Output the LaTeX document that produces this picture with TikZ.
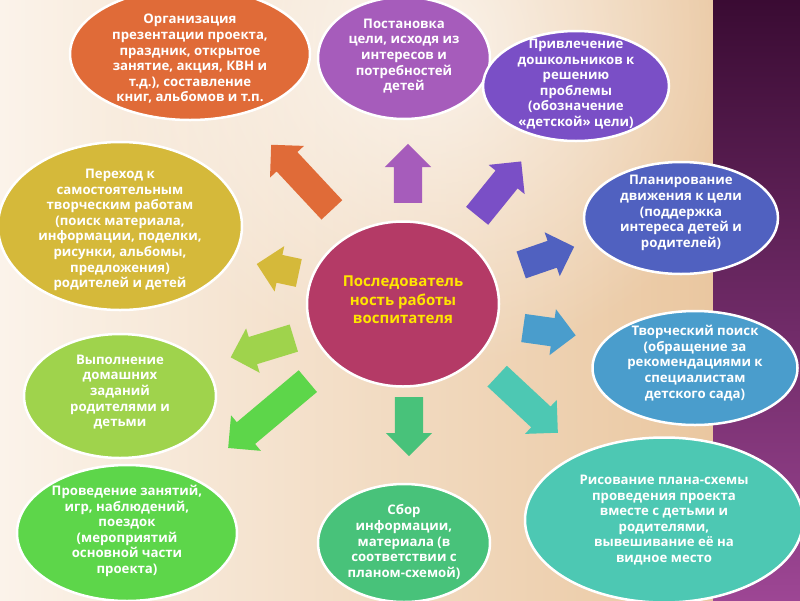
\documentclass[tikz,border=0pt]{standalone}
\usepackage{fontspec}
\setmainfont{Open Sans}
\usepackage{xcolor}
\usetikzlibrary{shapes.geometric,shapes.arrows,fadings}
\definecolor{color1}{HTML}{E06B38}
\definecolor{color2}{HTML}{A65CBB}
\definecolor{color3}{HTML}{7A4FC6}
\definecolor{color4}{HTML}{5061C0}
\definecolor{color5}{HTML}{4A9DCC}
\definecolor{color6}{HTML}{4DC8B3}
\definecolor{color7}{HTML}{48C27A}
\definecolor{color8}{HTML}{5DD64A}
\definecolor{color9}{HTML}{9FD34C}
\definecolor{color10}{HTML}{D5B93A}
\definecolor{color11}{HTML}{B43A66}
\definecolor{textyellow}{HTML}{FFE600}
\definecolor{sand1}{HTML}{FBF3EA}
\definecolor{sand2}{HTML}{EAC7A0}
\definecolor{band1}{HTML}{3A0B33}
\definecolor{band2}{HTML}{9D4694}
\tikzfading[name=glow, inner color=transparent!0, outer color=transparent!100]

\begin{document}
\begin{tikzpicture}[
  x=1pt,
  y=-1pt,
  stage/.style={ellipse, draw=white, line width=2.5pt, inner sep=0pt},
  push/.style={single arrow, draw=none, anchor=tail, inner xsep=0pt, inner ysep=14pt, minimum width=46pt, single arrow head extend=9pt, single arrow tip angle=90},
  note/.style={font=\bfseries\fontsize{13.2}{15.6}\selectfont, align=center, text=white},
  core/.style={font=\bfseries\fontsize{15}{18.5}\selectfont, align=center, text=textyellow}
]
\useasboundingbox (0,0) rectangle (800,600);
\clip (0,0) rectangle (800,600);
\shade[left color=sand1, right color=sand2] (0,0) rectangle (713,600);
\fill[white, path fading=glow, opacity=0.7] (430,40) circle (330);
\shade[top color=band1, bottom color=band2] (713,0) rectangle (800,600);

\node[stage, fill=color1, minimum width=240pt, minimum height=132pt] (Sorg) at (190,54) {};
\node[stage, fill=color2, minimum width=172pt, minimum height=122pt] (Sgoal) at (404,58) {};
\node[stage, fill=color3, minimum width=186pt, minimum height=110pt] (Sinv) at (576,86) {};
\node[stage, fill=color4, minimum width=194pt, minimum height=112pt] (Splan) at (681,218) {};
\node[stage, fill=color5, minimum width=205pt, minimum height=114pt] (Ssearch) at (695,368) {};
\node[stage, fill=color6, minimum width=278pt, minimum height=165pt] (Sdraw) at (664,520) {};
\node[stage, fill=color7, minimum width=172pt, minimum height=118pt] (Scoll) at (404,543) {};
\node[stage, fill=color8, minimum width=220pt, minimum height=136pt] (Scond) at (127,533) {};
\node[stage, fill=color9, minimum width=192pt, minimum height=124pt] (Shome) at (120,396) {};
\node[stage, fill=color10, minimum width=244pt, minimum height=168pt] (Strans) at (120,226) {};
\node[stage, fill=color11, minimum width=192pt, minimum height=165pt] (Score) at (403,304) {};

\node[note] (Torg) at (190,59) {Организация\\презентации проекта,\\праздник, открытое\\занятие, акция, КВН и\\т.д.), составление\\книг, альбомов и т.п.};
\node[note] (Tgoal) at (404,56) {Постановка\\цели, исходя из\\интересов и\\потребностей\\детей};
\node[note] (Tinv) at (576,84) {Привлечение\\дошкольников к\\решению\\проблемы\\(обозначение\\«детской» цели)};
\node[note] (Tplan) at (681,213) {Планирование\\движения к цели\\(поддержка\\интереса детей и\\родителей)};
\node[note] (Tsearch) at (695,363) {Творческий поиск\\(обращение за\\рекомендациями к\\специалистам\\детского сада)};
\node[note] (Tdraw) at (664,520) {Рисование плана-схемы\\проведения проекта\\вместе с детьми и\\родителями,\\вывешивание её на\\видное место};
\node[note] (Tcoll) at (404,542) {Сбор\\информации,\\материала (в\\соответствии с\\планом-схемой)};
\node[note] (Tcond) at (127,531) {Проведение занятий,\\игр, наблюдений,\\поездок\\(мероприятий\\основной части\\проекта)};
\node[note] (Thome) at (120,392) {Выполнение\\домашних\\заданий\\родителями и\\детьми};
\node[note] (Ttrans) at (120,230) {Переход к\\самостоятельным\\творческим работам\\(поиск материала,\\информации, поделки,\\рисунки, альбомы,\\предложения)\\родителей и детей};
\node[core] (Tcore) at (403,300) {Последователь\\ность работы\\воспитателя};

\node[push, fill=color1, rotate=133, minimum height=89pt] (Aorg) at (332,210) {};
\node[push, fill=color2, rotate=90, minimum height=59pt] (Agoal) at (408,203) {};
\node[push, fill=color3, rotate=51, minimum height=70pt] (Ainv) at (477,216) {};
\node[push, fill=color4, rotate=19, minimum height=56pt] (Aplan) at (521,265) {};
\node[push, fill=color5, rotate=-8, minimum height=53pt] (Asearch) at (523,328) {};
\node[push, fill=color6, rotate=-43, minimum height=83pt] (Adraw) at (497,376) {};
\node[push, fill=color7, rotate=-90, minimum height=59pt] (Acoll) at (409,397) {};
\node[push, fill=color8, rotate=220, minimum height=104pt] (Acond) at (308,381) {};
\node[push, fill=color9, rotate=197, minimum height=66pt] (Ahome) at (294,338) {};
\node[push, fill=color10, rotate=168, minimum height=43pt] (Atrans) at (299,273) {};
\end{tikzpicture}
\end{document}
